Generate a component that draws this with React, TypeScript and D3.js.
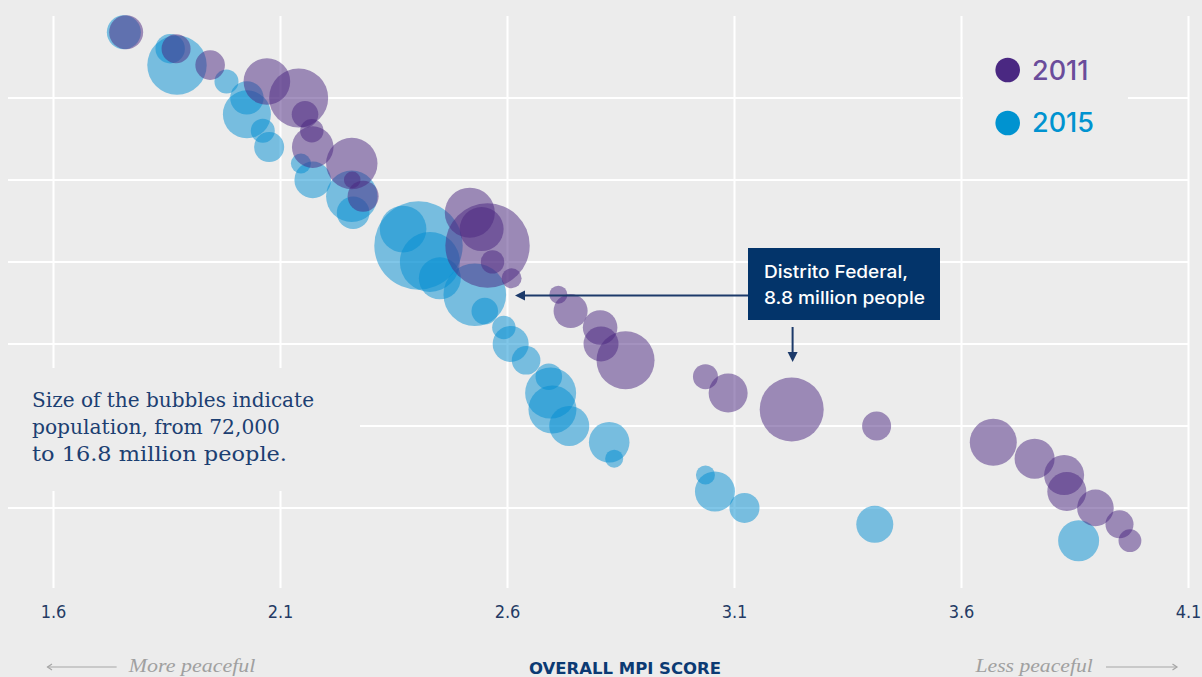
import React from "react";
import * as d3 from "d3";

// ---- data ----
const ranks2011 = [1,2,3,4,5,6,7,8,9,10,11,12,13,14,15,16,17,18,19,20,21,22,23,24,25,26,27,28,29,30,31,32];
const score2011 = [1.760,1.870,1.945,2.070,2.140,2.154,2.169,2.171,2.257,2.258,2.282,2.517,2.543,2.556,2.567,2.609,2.712,2.739,2.804,2.806,2.860,3.036,3.086,3.226,3.413,3.670,3.761,3.826,3.832,3.895,3.948,3.971];
const pop2011 = [2.49,1.81,1.88,4.67,7.48,1.52,1.18,3.72,5.68,0.59,2.07,5.38,4.16,15.3,1.18,0.86,0.70,2.49,2.57,2.63,7.23,1.34,3.27,8.81,1.81,4.75,3.44,3.44,3.27,2.88,1.69,1.12];

const ranks2015 = [1,2,3,4,5,6,7,8,9,10,11,12,13,14,15,16,17,18,19,20,21,22,23,24,25,26,27,28,29,30,31,32];
const score2015 = [1.755,1.857,1.872,1.981,2.026,2.026,2.061,2.075,2.145,2.171,2.257,2.260,2.370,2.404,2.429,2.451,2.528,2.550,2.592,2.607,2.641,2.691,2.695,2.699,2.736,2.824,2.835,3.036,3.057,3.122,3.409,3.858];
const pop2015 = [2.49,1.86,7.59,1.24,2.40,4.95,1.24,1.94,0.86,2.88,5.68,2.29,4.67,16.8,7.74,3.79,8.43,1.52,1.18,2.79,1.76,1.52,5.59,4.95,3.44,3.54,0.70,0.78,3.44,1.94,2.94,3.61];

const xTicks = [1.6, 2.1, 2.6, 3.1, 3.6, 4.1];
const xTickLabels = ["1.6", "2.1", "2.6", "3.1", "3.6", "4.1"];
const rankGrid = [5, 10, 15, 20, 25, 30];
const years = ["2011", "2015"];

const W = 1202;
const H = 677;
const BG = "#ececec";
const PURPLE = "#4a2680";
const BLUE = "#028ed2";

export default function App() {
  const x = d3.scaleLinear().domain([1.6, 4.1]).range([53.5, 1188.5]);
  const y = d3.scaleLinear().domain([0, 35]).range([15.9, 589.9]);
  const r = d3.scaleSqrt().domain([0, 16.8]).range([0, 44.2]);

  const d2011 = ranks2011.map((rk, i) => ({ rk, s: score2011[i], p: pop2011[i] }));
  const d2015 = ranks2015.map((rk, i) => ({ rk, s: score2015[i], p: pop2015[i] }));

  const condensed = "'DejaVu Sans Condensed', 'DejaVu Sans', sans-serif";

  return (
    <div style={{ position: "absolute", left: 0, top: 0, width: W, height: H, background: BG }}>
      <svg width={W} height={H} style={{ display: "block" }}>
        <rect x={0} y={0} width={W} height={H} fill={BG} />
        {/* grid */}
        <g>
          {xTicks.map((t) => (
            <line key={"v" + t} x1={x(t)} x2={x(t)} y1={y(0)} y2={588} stroke="#fff" strokeWidth={2} />
          ))}
          {rankGrid.map((g) => (
            <line key={"h" + g} x1={8} x2={x(4.1)} y1={y(g)} y2={y(g)} stroke="#fff" strokeWidth={2} />
          ))}
        </g>
        {/* boxes masking grid */}
        <rect x={0} y={368} width={360} height={123} fill={BG} />
        <rect x={963} y={30} width={165} height={130} fill={BG} />

        {/* bubbles */}
        <g>
          {d2015.map((d, i) => (
            <circle key={"b" + i} cx={x(d.s)} cy={y(d.rk)} r={r(d.p)} fill={BLUE} fillOpacity={0.5} />
          ))}
          {d2011.map((d, i) => (
            <circle key={"p" + i} cx={x(d.s)} cy={y(d.rk)} r={r(d.p)} fill={PURPLE} fillOpacity={0.5} />
          ))}
        </g>

        {/* x tick labels */}
        <g fontFamily={condensed} fontSize={18} fill="#243a64" textAnchor="middle">
          {xTicks.map((t, i) => (
            <text key={"t" + t} x={x(t)} y={618}>{xTickLabels[i]}</text>
          ))}
        </g>
        <text x={625} y={673.5} textAnchor="middle" fontFamily={condensed} fontWeight={700} fontSize={16.5} fill="#0b3a73" textLength={192} lengthAdjust="spacingAndGlyphs">
          OVERALL MPI SCORE
        </text>

        {/* direction hints */}
        <g stroke="#a6a6a6" strokeWidth={1.2} fill="none">
          <line x1={47.5} x2={116.6} y1={667} y2={667} />
          <polyline points="52,664 47.5,667 52,670" />
          <line x1={1106} x2={1177} y1={667} y2={667} />
          <polyline points="1172.5,664 1177,667 1172.5,670" />
        </g>
        <text x={128.8} y={672} fontFamily="'Liberation Serif', serif" fontStyle="italic" fontSize={19} fill="#a0a0a0" textLength={126.6} lengthAdjust="spacingAndGlyphs">More peaceful</text>
        <text x={975.5} y={672} fontFamily="'Liberation Serif', serif" fontStyle="italic" fontSize={19} fill="#a0a0a0" textLength={117.3} lengthAdjust="spacingAndGlyphs">Less peaceful</text>

        {/* legend */}
        <g fontFamily="Inter, 'Noto Sans', sans-serif" fontWeight={500} fontSize={27}>
          <circle cx={1007.7} cy={70} r={12.3} fill="#4a2882" />
          <text x={1032} y={79.5} fill="#6a4c9b">{years[0]}</text>
          <circle cx={1007.7} cy={123} r={12.3} fill="#0093d0" />
          <text x={1032} y={132} fill="#0093d0">{years[1]}</text>
        </g>

        {/* size note */}
        <g fontFamily="'DejaVu Serif', Georgia, serif" fontSize={21} fill="#1c3f72" lengthAdjust="spacingAndGlyphs">
          <text x={32} y={407} textLength={282} lengthAdjust="spacingAndGlyphs">Size of the bubbles indicate</text>
          <text x={32} y={434} textLength={248} lengthAdjust="spacingAndGlyphs">population, from 72,000</text>
          <text x={32} y={461} textLength={255} lengthAdjust="spacingAndGlyphs">to 16.8 million people.</text>
        </g>

        {/* Distrito Federal annotation */}
        <rect x={748} y={248} width={192} height={72} fill="#03346a" />
        <g fontFamily="Inter, 'Noto Sans', sans-serif" fontWeight={500} fontSize={17.5} fill="#fff">
          <text x={764} y={278} textLength={144} lengthAdjust="spacingAndGlyphs">Distrito Federal,</text>
          <text x={764} y={304} textLength={161} lengthAdjust="spacingAndGlyphs">8.8 million people</text>
        </g>
        <g stroke="#1c3a6a" strokeWidth={2}>
          <line x1={748} x2={522} y1={295.5} y2={295.5} />
          <line x1={792.6} x2={792.6} y1={327} y2={354} />
        </g>
        <polygon points="515,295.5 525,290.5 525,300.5" fill="#1c3a6a" />
        <polygon points="792.6,362 787.6,352 797.6,352" fill="#1c3a6a" />
      </svg>
    </div>
  );
}
